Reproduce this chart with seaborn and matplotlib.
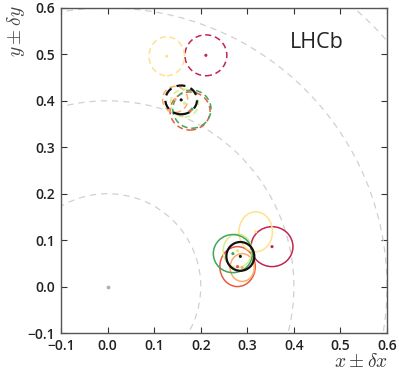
import numpy as np
import pandas as pd
import matplotlib
matplotlib.use("Agg")
import matplotlib.pyplot as plt
from matplotlib.patches import Ellipse, Circle
import seaborn as sns

# ── data: centres and half-widths of the uncertainty ellipses ──
names = ["crimson", "red", "orange", "yellow", "lime", "green", "black"]
colours = {"crimson": "#c2254f", "red": "#ea5a44", "orange": "#fcae66",
           "yellow": "#fee28e", "lime": "#d7ee8a", "green": "#3da75a",
           "black": "#111111"}

# solid set (bottom cluster)
solid_x  = [0.353, 0.279, 0.289, 0.318, 0.279, 0.269, 0.285]
solid_y  = [0.086, 0.043, 0.041, 0.118, 0.077, 0.071, 0.065]
solid_dx = [0.045, 0.038, 0.026, 0.036, 0.031, 0.042, 0.030]
solid_dy = [0.043, 0.043, 0.030, 0.043, 0.036, 0.041, 0.031]

# dashed set (upper clusters)
dash_x  = [0.211, 0.177, 0.145, 0.127, 0.165, 0.181, 0.158]
dash_y  = [0.498, 0.378, 0.403, 0.496, 0.395, 0.382, 0.402]
dash_dx = [0.045, 0.043, 0.027, 0.038, 0.030, 0.041, 0.034]
dash_dy = [0.044, 0.041, 0.028, 0.042, 0.030, 0.041, 0.031]

ring_radii = [0.2, 0.4, 0.6, 0.8]
x_ticks = [-0.1, 0.0, 0.1, 0.2, 0.3, 0.4, 0.5, 0.6]
y_ticks = [-0.1, 0.0, 0.1, 0.2, 0.3, 0.4, 0.5, 0.6]

solid = pd.DataFrame({"name": names, "x": solid_x, "y": solid_y,
                      "dx": solid_dx, "dy": solid_dy, "ls": "-"})
dashed = pd.DataFrame({"name": names, "x": dash_x, "y": dash_y,
                       "dx": dash_dx, "dy": dash_dy, "ls": "--"})
df = pd.concat([solid, dashed], ignore_index=True)

# ── style ──
sns.set_style("ticks")
plt.rcParams["font.family"] = ["Open Sans", "DejaVu Sans"]
plt.rcParams["mathtext.fontset"] = "cm"
plt.rcParams["xtick.direction"] = "in"
plt.rcParams["ytick.direction"] = "in"
plt.rcParams["axes.edgecolor"] = "#555555"

fig = plt.figure(figsize=(3.99, 3.78), dpi=100)
ax = fig.add_axes([0.153, 0.119, 0.817, 0.860])

for r in ring_radii:
    ax.add_patch(Circle((0, 0), r, fill=False, ls=(0, (5, 4)), lw=0.9,
                        ec="#d0d0d0", zorder=1))

for _, row in df.iterrows():
    lw = 1.6 if row["name"] == "black" else 1.1
    ls = "-" if row["ls"] == "-" else (0, (4, 2.5))
    ax.add_patch(Ellipse((row["x"], row["y"]), 2 * row["dx"], 2 * row["dy"],
                         fill=False, ec=colours[row["name"]], lw=lw, ls=ls,
                         zorder=3 if row["name"] == "black" else 2))

sns.scatterplot(data=df, x="x", y="y", hue="name", palette=colours,
                s=5, linewidth=0, legend=False, ax=ax, zorder=4)
ax.scatter([0.0], [0.0], s=3, color="#b0b0b0", zorder=4)

ax.set_xlim(-0.1, 0.6)
ax.set_ylim(-0.1, 0.6)
ax.set_xticks(x_ticks)
ax.set_yticks(y_ticks)
ax.set_xticklabels([f"{t:.1f}".replace("-", "\u2212") for t in x_ticks])
ax.set_yticklabels([f"{t:.1f}".replace("-", "\u2212") for t in y_ticks])
ax.tick_params(top=True, right=True, length=4, width=0.8,
               labelsize=10, colors="#333333", labelcolor="#222222", pad=4)
for lbl in ax.get_xticklabels() + ax.get_yticklabels():
    lbl.set_fontweight(600)
for s in ax.spines.values():
    s.set_linewidth(1.0)

ax.set_xlabel("")
ax.set_ylabel("")
fig.text(0.972, 0.018, r"$x \pm \delta x$", ha="right", va="bottom",
         fontsize=14, color="#333333")
fig.text(0.012, 0.985, r"$y \pm \delta y$", ha="left", va="top",
         fontsize=14, color="#444444", rotation=90)
ax.text(0.449, 0.525, "LHCb", ha="center", va="center",
        fontsize=15.5, color="#222222")

fig.savefig("out.png", dpi=100)
